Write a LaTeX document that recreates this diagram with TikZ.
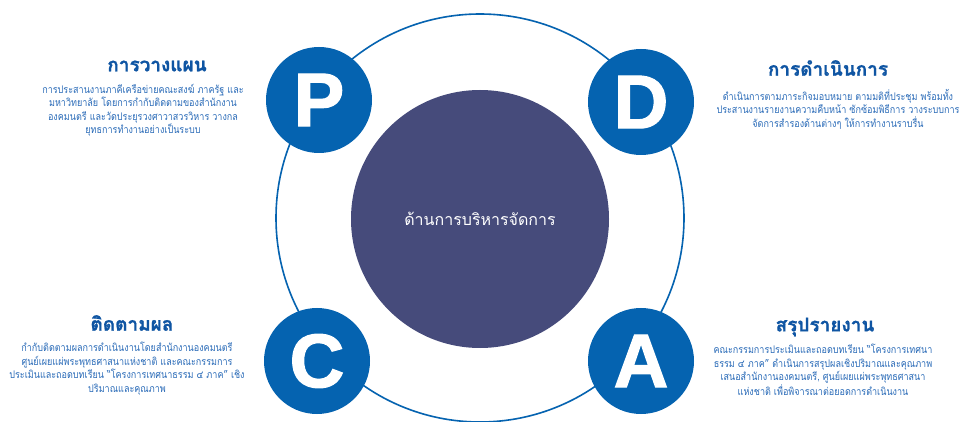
\documentclass[tikz,border=0pt]{standalone}
\usepackage{fontspec}
\setmainfont{Liberation Sans}
\newfontfamily\letterfont[FakeBold=1.5]{Liberation Sans Bold}
\newfontfamily\thai[Script=Thai]{Loma}
\newfontfamily\thaititle[Script=Thai,FakeBold=1]{Loma Bold}
\newfontfamily\thainarrow[Script=Thai,FakeStretch=0.86]{Loma}
\definecolor{pdcablue}{HTML}{0563B0}
\definecolor{titleblue}{HTML}{0F55A3}
\definecolor{bodyblue}{HTML}{2A6BB8}
\definecolor{hubfill}{HTML}{464B7B}
\begin{document}
\begin{tikzpicture}[x=1pt,y=-1pt,
  letterdisc/.style={circle,fill=pdcablue,minimum size=106pt,inner sep=0pt,text=white,
     font=\letterfont\fontsize{76}{76}\selectfont},
  hubdisc/.style={circle,fill=hubfill,minimum size=258pt,inner sep=0pt,text=white,
     font=\thai\fontsize{16}{18}\selectfont},
  ringline/.style={draw=pdcablue,line width=1.6pt},
  titletext/.style={text=titleblue,font=\thaititle\fontsize{19}{22}\selectfont,inner sep=0pt},
  bodytext/.style={text=bodyblue,font=\thainarrow\fontsize{10.5}{13.5}\selectfont,align=center,inner sep=0pt,anchor=north}]
\useasboundingbox (0,0) rectangle (962,422);
\fill[white] (0,0) rectangle (962,422);
\node[circle,ringline,minimum size=408pt,inner sep=0pt] (ring) at (480,218) {};
\node[hubdisc] (hub) at (480,219) {ด้านการบริหารจัดการ};
\node[letterdisc] (p) at (319,100) {P};
\node[letterdisc] (d) at (641,102) {D};
\node[letterdisc] (c) at (317,361) {C};
\node[letterdisc] (a) at (641,361) {A};
% P
\node[titletext] (ptitle) at (157,66) {การวางแผน};
\node[bodytext] (pbody) at (143,84) {การประสานงานภาคีเครือข่ายคณะสงฆ์ ภาครัฐ และ\\
มหาวิทยาลัย โดยการกำกับติดตามของสำนักงาน\\
องคมนตรี และวัดประยุรวงศาวาสวรวิหาร วางกล\\
ยุทธการทำงานอย่างเป็นระบบ};
% D
\node[titletext] (dtitle) at (828,68) {การดำเนินการ};
\node[bodytext] (dbody) at (838,89) {ดำเนินการตามภาระกิจมอบหมาย ตามมติที่ประชุม พร้อมทั้ง\\
ประสานงานรายงานความคืบหน้า ซักซ้อมพิธีการ วางระบบการ\\
จัดการสำรองด้านต่างๆ ให้การทำงานราบรื่น};
% C
\node[titletext] (ctitle) at (132,323) {ติดตามผล};
\node[bodytext] (cbody) at (127,342) {กำกับติดตามผลการดำเนินงานโดยสำนักงานองคมนตรี\\
ศูนย์เผยแผ่พระพุทธศาสนาแห่งชาติ และคณะกรรมการ\\
ประเมินและถอดบทเรียน “โครงการเทศนาธรรม ๔ ภาค” เชิง\\
ปริมาณและคุณภาพ};
% A
\node[titletext] (atitle) at (825,327) {สรุปรายงาน};
\node[bodytext] (abody) at (823,344) {คณะกรรมการประเมินและถอดบทเรียน “โครงการเทศนา\\
ธรรม ๔ ภาค” ดำเนินการสรุปผลเชิงปริมาณและคุณภาพ\\
เสนอสำนักงานองคมนตรี, ศูนย์เผยแผ่พระพุทธศาสนา\\
แห่งชาติ เพื่อพิจารณาต่อยอดการดำเนินงาน};
\end{tikzpicture}
\end{document}
